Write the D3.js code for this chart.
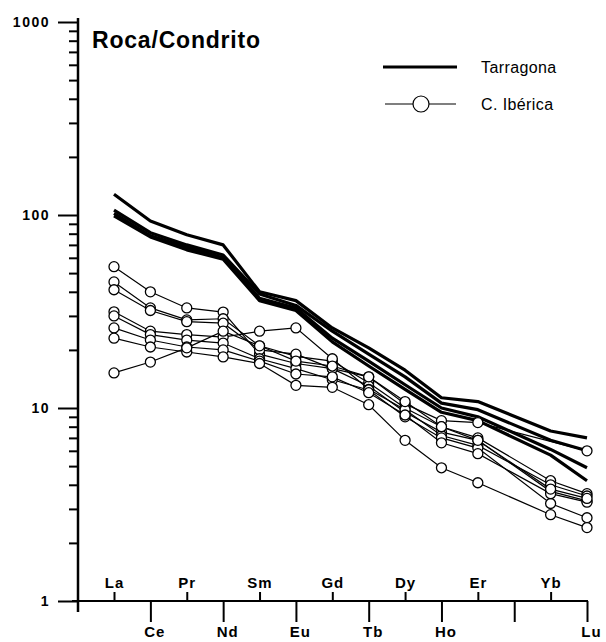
<!DOCTYPE html>
<html>
<head>
<meta charset="utf-8">
<script src="https://cdn.jsdelivr.net/npm/d3@7"></script>
<style>
  body { margin: 0; background: #fff; }
  svg { display: block; font-family: "Liberation Sans", Arial, sans-serif; }
</style>
</head>
<body>
<svg width="606" height="642"></svg>
<script>
// REE elements (Tm has a tick but no label / no data)
var elements = ["La", "Ce", "Pr", "Nd", "Sm", "Eu", "Gd", "Tb", "Dy", "Ho", "Er", "Tm", "Yb", "Lu"];
var labels = ["La", "Ce", "Pr", "Nd", "Sm", "Eu", "Gd", "Tb", "Dy", "Ho", "Er", "", "Yb", "Lu"];
var yTicks = [1, 10, 100, 1000];

// Tarragona samples (rock / chondrite)
var tarragona = [
    [128, 93, 79, 70, 40, 36, 26, 20.5, 15.7, 11.3, 10.8, null, 7.6, 7.0],
    [106, 81, 70, 62, 39, 34, 25, 19, 14.5, 10.6, 9.8, null, 6.8, 6.0],
    [102, 78, 68, 60, 37, 33, 23, 17.5, 13.2, 10.0, 9.0, null, 6.1, 4.9],
    [99, 77, 66, 59, 36, 32, 22, 16.5, 12.5, 9.5, 8.6, null, 5.7, 4.2]
];

// Cordillera Ibérica samples
var iberica = [
    [54, 40, 33, 31.4, 19, 17, 16, 14.5, 10.5, 8.6, 8.4, null, null, 6.0],
    [45, 33, 28.6, 29, 21, 18.5, 17.5, 13.5, 10, 8.0, 7.0, null, 4.2, 3.6],
    [41, 32, 28, 27.5, 20, 19, 16, 13, 9.5, 7.5, 6.8, null, 3.7, 3.3],
    [31.5, 25, 24, 23.3, 25, 26, 18, 12.5, 9.8, 7.2, 6.4, null, 4.0, 3.5],
    [30, 24, 22.5, 21.7, 18, 16, 14, 12.4, 9, 7.0, 6.2, null, 3.2, 2.7],
    [26, 22.5, 20.7, 20, 17.5, 15, 14.5, 12, 9.2, 6.6, 5.8, null, 3.6, 3.25],
    [23, 20.7, 19.5, 18.4, 17, 13.1, 12.8, 10.4, 6.8, 4.9, 4.1, null, 2.8, 2.4],
    [15.2, 17.3, 20.5, 25, 21, 17.5, 16.5, 14.5, 10.8, 8.0, 6.8, null, 3.8, 3.4]
];

var svg = d3.select("svg");

var x = d3.scalePoint().domain(elements).range([114, 587]);
var y = d3.scaleLog().domain([1, 1000]).range([601, 22]);

// y axis with minor ticks
var minor = [];
for (var d = 1; d < 1000; d *= 10) {
    for (var k = 2; k <= 9; k++) minor.push(d * k);
}
var yAxis = svg.append("g")
    .attr("transform", "translate(78,0)")
    .call(d3.axisLeft(y).tickValues(yTicks.concat(minor)).tickSize(20).tickFormat(v => yTicks.includes(v) ? v : ""));
yAxis.select(".domain").remove();
yAxis.selectAll(".tick line")
    .attr("stroke-width", 2)
    .attr("x2", v => yTicks.includes(v) ? -20 : -9);
yAxis.selectAll(".tick text")
    .attr("x", -28)
    .attr("font-size", 14)
    .attr("font-weight", "bold")
    .attr("letter-spacing", 1.5)
    .attr("dy", "0.35em")
    .attr("fill", "#000");
yAxis.append("line")
    .attr("x1", 0).attr("x2", 0)
    .attr("y1", 18).attr("y2", 612)
    .attr("stroke", "#000").attr("stroke-width", 2.5);

// x axis: labels alternate above and below
var upper = elements.filter((e, i) => i % 2 == 0);
var lower = elements.filter((e, i) => i % 2 == 1);
var fmt = e => labels[elements.indexOf(e)];

var xTop = svg.append("g")
    .attr("transform", "translate(0,601)")
    .call(d3.axisTop(x).tickValues(upper).tickSize(9).tickFormat(fmt));
var xBot = svg.append("g")
    .attr("transform", "translate(0,601)")
    .call(d3.axisBottom(x).tickValues(lower).tickSize(21).tickFormat(fmt));
[xTop, xBot].forEach(g => {
    g.select(".domain").remove();
    g.selectAll(".tick line").attr("stroke-width", 2);
    g.selectAll(".tick text")
        .attr("font-size", 15)
        .attr("font-weight", "bold")
        .attr("letter-spacing", 1)
        .attr("fill", "#000");
});
xTop.selectAll(".tick text").attr("y", -13);
xBot.selectAll(".tick text").attr("y", 25).attr("dx", 4);
svg.append("line")
    .attr("x1", 72).attr("x2", x("Lu") + 1)
    .attr("y1", 601).attr("y2", 601)
    .attr("stroke", "#000").attr("stroke-width", 2);

// series
var line = d3.line()
    .x(p => x(p.el))
    .y(p => y(p.v));
var toPoints = row => row.map((v, i) => ({ el: elements[i], v: v })).filter(p => p.v != null);

svg.selectAll(".tarr")
    .data(tarragona)
    .enter()
    .append("path")
    .attr("class", "tarr")
    .attr("d", r => line(toPoints(r)))
    .attr("fill", "none")
    .attr("stroke", "#000")
    .attr("stroke-width", 3.2)
    .attr("stroke-linejoin", "round");

var ib = svg.selectAll(".ib")
    .data(iberica)
    .enter()
    .append("g")
    .attr("class", "ib");
ib.append("path")
    .attr("d", r => line(toPoints(r)))
    .attr("fill", "none")
    .attr("stroke", "#000")
    .attr("stroke-width", 1.2);
ib.selectAll("circle")
    .data(r => toPoints(r))
    .enter()
    .append("circle")
    .attr("cx", p => x(p.el))
    .attr("cy", p => y(p.v))
    .attr("r", 5)
    .attr("fill", "#fff")
    .attr("stroke", "#000")
    .attr("stroke-width", 1.3);

// title
svg.append("text")
    .attr("x", 92)
    .attr("y", 48)
    .attr("font-size", 23)
    .attr("font-weight", "bold")
    .attr("letter-spacing", 0.8)
    .text("Roca/Condrito");

// legend
var legend = svg.append("g");
legend.append("line")
    .attr("x1", 383).attr("x2", 457).attr("y1", 67).attr("y2", 67)
    .attr("stroke", "#000").attr("stroke-width", 3);
legend.append("text")
    .attr("x", 481).attr("y", 73)
    .attr("font-size", 16)
    .attr("letter-spacing", 0.4)
    .text("Tarragona");
legend.append("line")
    .attr("x1", 385).attr("x2", 456).attr("y1", 104).attr("y2", 104)
    .attr("stroke", "#000").attr("stroke-width", 1.2);
legend.append("circle")
    .attr("cx", 421).attr("cy", 104).attr("r", 8)
    .attr("fill", "#fff").attr("stroke", "#000").attr("stroke-width", 1.2);
legend.append("text")
    .attr("x", 481).attr("y", 110)
    .attr("font-size", 16)
    .attr("letter-spacing", 0.4)
    .text("C. Ibérica");
</script>
</body>
</html>
